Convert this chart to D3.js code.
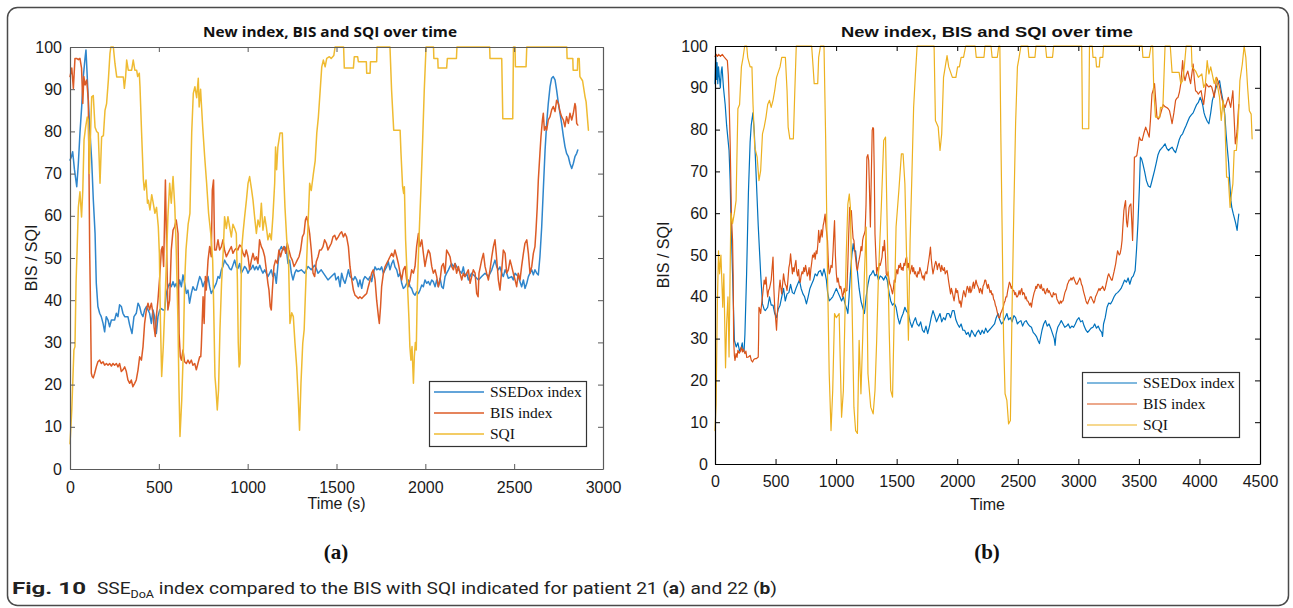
<!DOCTYPE html>
<html><head><meta charset="utf-8">
<script src="https://cdn.jsdelivr.net/npm/d3@7"></script>
<style>body{margin:0;background:#fff}svg{display:block}</style>
</head><body>
<svg id="c" width="1293" height="608"></svg>
<script>
// ---------------- data ----------------
const yTicks = [0,10,20,30,40,50,60,70,80,90,100];
const xTicksA = [0,500,1000,1500,2000,2500,3000];
const xTicksB = [0,500,1000,1500,2000,2500,3000,3500,4000,4500];
const legendLabels = ["SSEDox index","BIS index","SQI"];
const titleText = "New index, BIS and SQI over time";
const xLabelA = "Time (s)", xLabelB = "Time", yLabel = "BIS / SQI";

// panel (a) : patient 21
const sseA = [[0,73.2],[8,74],[15,75.2],[25,71],[38,66.9],[47,72.4],[56,79.6],[66,86],[75,93],[85,97.5],[90,99.3],[97,93],[103,87.4],[112,80],[122,73.2],[131,64],[141,55.9],[148,44],[157,38.5],[167,36.9],[176,36.1],[186,34.5],[195,32.5],[204,36.1],[214,35.3],[223,33.7],[233,35.3],[251,35.3],[261,36.9],[270,36.1],[279,38.9],[289,38.5],[298,36.9],[308,36.1],[326,36.1],[336,34.1],[349,32.1],[360,36.1],[373,36.9],[383,39.3],[392,38.5],[401,36.9],[411,36.1],[420,37.7],[430,38.5],[439,37.7],[448,36.9],[458,34.5],[467,37.7],[476,36.1],[486,32.1],[495,36.1],[505,37.7],[514,38],[523,37.7],[533,37.7],[542,41.6],[552,43.2],[561,44],[570,43.2],[580,44.4],[589,43.2],[598,44],[608,42.4],[617,44.8],[627,43.2],[636,46],[645,44],[655,41.6],[664,42.4],[673,39.3],[683,41.6],[692,43.2],[702,42.4],[711,42.4],[720,44],[730,45.6],[739,44.8],[748,43.2],[758,44.4],[767,44],[777,45.6],[786,43.2],[795,41.6],[805,42.4],[814,43.2],[823,44],[833,45.6],[842,45.2],[852,47.2],[861,48],[870,49.5],[880,48.7],[889,48.3],[898,47.5],[908,47.2],[917,48.3],[927,49.5],[936,47.9],[945,47.5],[955,48.7],[964,46.4],[974,47.2],[983,48],[992,47.5],[1002,46.4],[1011,47.2],[1021,47.5],[1030,48.3],[1039,47.2],[1049,48],[1058,47.2],[1068,48.3],[1077,47.2],[1086,46.4],[1096,47.2],[1105,46.4],[1114,45.6],[1124,46.4],[1133,47.2],[1142,45.6],[1152,46.4],[1161,44],[1171,48.7],[1180,51.9],[1190,52.7],[1199,51.9],[1208,52.7],[1218,51.9],[1227,48.7],[1236,49.5],[1246,46.4],[1255,44.8],[1265,46.4],[1274,47.2],[1283,46.8],[1302,47.2],[1321,46.4],[1340,48],[1358,47.2],[1377,48.3],[1386,47.5],[1396,46.4],[1414,47.2],[1433,46],[1452,44.8],[1471,45.6],[1490,46.4],[1497,44.8],[1510,45.6],[1520,43.2],[1529,46.4],[1539,44.8],[1548,44],[1558,45.6],[1567,47.2],[1576,45.6],[1586,45.2],[1595,44.8],[1604,45.6],[1614,44.8],[1623,43.2],[1632,44.8],[1642,42.8],[1651,44.8],[1660,45.6],[1670,45.2],[1679,44.8],[1689,45.6],[1698,44.4],[1707,46.4],[1717,47.9],[1726,47.2],[1736,47.5],[1745,47.2],[1754,47.9],[1764,46.4],[1773,47.2],[1782,47.9],[1792,49.1],[1801,47.2],[1811,48.7],[1820,49.5],[1829,47.9],[1839,47.2],[1848,45.6],[1858,46.4],[1867,44],[1876,42.8],[1886,43.2],[1895,44],[1904,44.8],[1914,43.2],[1923,42.8],[1933,41.6],[1942,41.2],[1951,42],[1961,41.6],[1970,42.4],[1980,43.6],[1989,43.2],[1998,44.8],[2008,44],[2017,44.4],[2026,43.6],[2036,44.8],[2045,44.4],[2055,43.2],[2064,44.8],[2073,43.2],[2083,45.2],[2092,43.2],[2101,42.8],[2111,45.6],[2120,46.4],[2130,47.2],[2139,48],[2148,48.7],[2158,47.9],[2167,48.7],[2186,47.2],[2205,46.4],[2214,47.9],[2223,45.6],[2233,46.4],[2242,44.8],[2261,46.4],[2280,45.6],[2299,44.8],[2317,45.6],[2336,46.4],[2355,45.6],[2374,47.2],[2392,49.5],[2402,47.9],[2411,47.2],[2420,47.9],[2430,46.4],[2439,45.6],[2449,47.2],[2458,46.4],[2467,45.2],[2486,45.6],[2495,44.8],[2505,46.4],[2523,45.6],[2542,43.2],[2552,44.8],[2561,42.8],[2571,44],[2580,45.6],[2589,46.4],[2599,47.2],[2608,46],[2617,47.2],[2627,46.4],[2636,46],[2645,50.3],[2655,57.4],[2664,66.1],[2674,75.6],[2683,81.9],[2692,86.6],[2702,90.6],[2711,92.6],[2720,93],[2730,92.2],[2739,89.8],[2749,86.6],[2758,84.3],[2767,81.9],[2777,78.8],[2786,76.4],[2795,74.8],[2805,74],[2814,72.4],[2824,71.2],[2833,72.4],[2842,74],[2852,74.8],[2858,75.6]];

const bisA = [[0,93],[10,95],[19,90.2],[28,97.3],[37,97.3],[47,97],[56,97.3],[65,95],[72,86.6],[78,93],[85,91],[94,92.2],[103,87.4],[107,70],[111,51],[115,40],[120,22.7],[125,21.9],[131,21.6],[139,22.7],[148,24.2],[157,25.4],[167,25.8],[176,25],[186,25.4],[195,24.6],[205,25],[214,24.6],[223,25],[233,24.4],[242,25],[251,24.6],[261,25],[270,24.2],[279,25],[289,23.1],[298,23.5],[308,24.2],[317,23.1],[326,21.1],[336,20.3],[345,21.1],[354,19.5],[364,20.3],[373,21.1],[383,23.5],[392,26.6],[402,25.8],[411,29],[420,34.5],[430,37.7],[439,39.3],[448,37.7],[458,39.3],[467,36.9],[473,33.7],[480,31.4],[486,36.1],[495,40],[505,45.6],[514,51.9],[520,52.7],[527,48],[537,68.5],[544,52],[551,37.7],[561,40],[570,51.9],[580,56.6],[589,57.4],[598,59],[608,55.8],[614,32.1],[621,26.6],[627,25.8],[636,28.2],[645,25.4],[655,25],[664,25.8],[673,25],[683,25.8],[692,24.6],[702,25],[711,23.5],[720,25],[730,26.6],[736,26.6],[739,29],[749,40.8],[755,34.5],[762,45.6],[767,42.4],[777,49.5],[786,52.7],[795,50.3],[801,66.1],[808,68.5],[814,51.9],[823,51.9],[833,54.3],[842,51.9],[852,52.7],[861,54.3],[870,51.9],[880,50.3],[889,51.1],[898,51.9],[908,52.7],[917,51.1],[927,51.9],[936,52.3],[945,51.9],[955,53.1],[964,52.7],[974,51.1],[983,50.3],[992,51.9],[1002,50.3],[1011,47.2],[1021,49.5],[1030,51.1],[1039,49.5],[1049,50.3],[1058,48.7],[1067,54.3],[1077,52.7],[1086,51.9],[1096,50.3],[1105,47.2],[1114,44],[1120,42.4],[1127,38.5],[1133,37.7],[1139,42.4],[1148,48],[1157,49.5],[1167,48.7],[1176,51.9],[1185,50.3],[1195,51.9],[1204,52.7],[1214,51.1],[1223,53.5],[1232,51.9],[1242,50.3],[1251,49.5],[1261,48],[1270,48.7],[1279,49.5],[1289,50.3],[1298,51.9],[1308,55],[1317,55.8],[1325,59],[1332,59.8],[1340,58.2],[1349,55.8],[1358,51.9],[1368,46.4],[1377,45.6],[1386,49.1],[1396,50.3],[1405,51.9],[1414,51.9],[1424,52.7],[1433,54.3],[1443,53.5],[1452,51.9],[1461,52.7],[1471,53.5],[1480,55],[1490,55.4],[1499,54.3],[1510,55],[1520,55.8],[1529,56.2],[1539,55],[1548,55.8],[1557,55],[1567,52.7],[1576,48],[1586,44.8],[1595,42.4],[1604,41.2],[1614,40.8],[1623,40.4],[1632,40.8],[1642,40.4],[1651,40.8],[1660,41.2],[1670,41.6],[1679,43.2],[1689,44.8],[1698,46.4],[1707,47.2],[1717,44.8],[1726,40],[1736,36.1],[1741,34.5],[1748,38.5],[1754,43.2],[1764,46.4],[1773,47.9],[1782,48.7],[1792,49.5],[1801,50.3],[1811,51.1],[1820,50.3],[1829,51.9],[1839,50.3],[1848,48.7],[1858,46.4],[1867,44.8],[1876,47.2],[1886,48],[1895,44.8],[1904,43.2],[1914,44.8],[1923,47.2],[1933,46.4],[1942,48],[1951,52.7],[1961,55.8],[1970,52.7],[1980,54.3],[1989,51.1],[1998,48],[2008,50.3],[2017,51.9],[2026,51.1],[2036,48],[2045,46.4],[2055,47.2],[2064,45.6],[2073,43.2],[2083,44.8],[2092,48],[2101,48.7],[2111,46.4],[2120,51.9],[2130,51.1],[2139,50.3],[2148,48],[2158,47.2],[2167,48.7],[2176,46.4],[2186,48],[2195,46.4],[2205,44.8],[2214,46.4],[2223,45.6],[2233,46.4],[2242,47.2],[2252,44],[2261,45.6],[2270,47.2],[2280,46.4],[2289,41.6],[2297,40.8],[2302,46.4],[2310,48],[2317,49.5],[2327,51.1],[2336,48],[2345,46.4],[2355,44.8],[2364,47.2],[2374,50.3],[2383,52.7],[2392,54.3],[2399,51.1],[2405,48],[2411,44.8],[2420,42.4],[2430,47.2],[2439,51.9],[2449,51.1],[2458,46.4],[2467,47.2],[2477,49.5],[2486,48],[2495,46.4],[2505,44.8],[2514,43.2],[2523,46.4],[2533,44.8],[2542,48],[2552,51.1],[2561,53.5],[2571,54.3],[2580,51.1],[2589,46.4],[2599,48],[2608,51.1],[2617,52.7],[2623,56.6],[2630,62.2],[2636,68.5],[2645,74.8],[2651,78.8],[2659,82.7],[2664,84.3],[2670,80.3],[2677,81.1],[2683,80.3],[2692,82.7],[2702,83.5],[2711,85.1],[2720,85.9],[2730,84.7],[2739,87.4],[2749,86.6],[2758,84.7],[2767,83.5],[2777,82.7],[2786,81.1],[2795,83.5],[2805,81.9],[2814,84.3],[2824,82.7],[2833,84.3],[2842,86.6],[2846,85.9],[2852,81.9],[2858,81.5]];

const sqiA = [[0,6],[10,14],[22,28.2],[28,29],[34,44],[40,52],[47,62],[56,65.7],[65,59.7],[72,66],[79,78],[88,81],[97,83.4],[103,82.7],[109,70],[116,80],[122,88.2],[131,88.5],[141,81],[150,80],[159,79.6],[169,67.7],[178,78.7],[188,79],[197,85],[206,86.6],[216,92.2],[225,98.5],[230,100],[244,100],[253,96.1],[263,92.9],[281,92.9],[300,92.9],[306,90.2],[313,92.9],[319,96.9],[328,94.5],[347,94.5],[356,96.9],[365,94.5],[375,94.5],[381,93],[390,93.8],[394,90.6],[403,79.6],[413,68.5],[418,66.1],[428,68.5],[436,63],[441,63.7],[450,61.4],[460,65],[469,62.9],[478,60.6],[487,62],[497,57.4],[503,51.1],[509,35],[516,21.9],[525,29],[535,40],[545,52],[551,59.8],[561,67.7],[570,63],[580,69.3],[590,62],[598,51.9],[607,36.1],[613,20],[619,7.7],[629,16.4],[638,28.2],[645,44],[653,52],[665,58],[675,60.6],[685,79.6],[694,89],[703,90.6],[713,88],[722,92.6],[727,85.8],[735,90],[747,81],[758,74],[769,67.7],[780,60.6],[792,55.9],[803,49.5],[808,40],[816,21.9],[822,18.7],[829,14],[836,18.7],[844,33],[853,44],[863,52],[870,59.8],[880,57],[889,59.8],[898,57.5],[908,55],[917,58],[927,57],[936,55.8],[942,45],[947,30],[952,24.2],[957,25],[962,40],[966,52],[974,56],[983,59.8],[993,63.7],[1002,67.7],[1011,69.3],[1021,66.5],[1030,63.7],[1039,59.8],[1049,55.8],[1058,59],[1068,57.4],[1077,63],[1086,56.6],[1096,59.8],[1105,57.4],[1114,54.3],[1124,55.8],[1133,54.3],[1142,59.8],[1152,67.7],[1157,76.3],[1163,70.9],[1170,76.3],[1182,79.6],[1195,79.6],[1201,71.7],[1210,62],[1220,54.3],[1229,51.1],[1238,34.5],[1248,37],[1257,36.1],[1266,30],[1276,24.2],[1285,16.4],[1292,9.2],[1300,20.3],[1310,29.8],[1318,33],[1328,45],[1340,58],[1349,67.7],[1358,66],[1370,70],[1380,73],[1389,79.6],[1398,83.4],[1407,89],[1417,95.3],[1426,96.9],[1436,95.3],[1445,97.3],[1460,97.7],[1470,97.3],[1485,98],[1492,100],[1540,100],[1544,95],[1595,95],[1600,97.7],[1619,97.7],[1623,96.5],[1668,96.5],[1670,93.8],[1689,93.8],[1691,96.5],[1726,96.5],[1728,100],[1801,100],[1810,89.8],[1822,80.3],[1858,80.3],[1863,74.8],[1872,66.9],[1878,65.3],[1882,66.9],[1889,54.3],[1900,43.2],[1908,35.3],[1913,29],[1919,25.8],[1925,29],[1933,20.3],[1938,26.6],[1944,30],[1949,28.2],[1955,42.4],[1964,54.3],[1975,66.1],[1985,78],[1994,89.8],[2004,100],[2046,100],[2048,97.3],[2070,97.3],[2072,95],[2120,95],[2124,97.3],[2175,97.3],[2178,100],[2362,100],[2364,97.3],[2430,97.3],[2436,83],[2492,83],[2496,100],[2505,100],[2507,95.3],[2567,95.3],[2571,100],[2796,100],[2798,97.3],[2830,97.3],[2832,94.5],[2856,94.5],[2858,97.3],[2866,97.3],[2870,93],[2885,92],[2899,88.2],[2905,87],[2918,80.3]];

// panel (b) : patient 22
const sseB = [[0,91],[6,98],[12,92],[17,96],[23,91],[29,95],[35,93],[44,90],[52,94],[58,95],[70,90],[84,86],[96,81],[116,75],[125,68],[131,60],[145,45.5],[160,29.6],[175,28],[189,29],[203,27],[218,28],[225,29],[232,27],[240,27],[247,31],[261,45.5],[276,65],[290,77],[299,81],[313,84],[325,79],[334,73],[357,57],[377,45.5],[392,38.3],[406,37],[415,36.7],[435,37.5],[450,40],[464,38],[479,38],[493,36],[508,35],[522,37],[537,38],[551,40],[566,42],[580,39],[595,40.7],[610,41],[624,43],[639,41],[653,40.7],[668,42],[682,43],[697,44],[711,42],[726,40.7],[740,40],[755,38.3],[769,40],[784,42],[798,43],[813,44],[827,45.5],[842,45],[856,46],[871,46.3],[885,45],[900,46.7],[910,45.5],[920,44],[930,41],[943,39],[958,39.5],[972,40],[987,41],[1002,42],[1016,41],[1031,40],[1045,39],[1060,40],[1074,38.3],[1089,37],[1097,36],[1107,40],[1118,45.5],[1130,50],[1141,52.7],[1150,51],[1161,51],[1176,46],[1190,42],[1205,39],[1219,37.5],[1234,36],[1248,40],[1263,43],[1277,45],[1292,45.5],[1306,46.3],[1321,45],[1335,45.5],[1350,44],[1364,45],[1379,44.7],[1393,44],[1408,45],[1422,44],[1437,41],[1451,39],[1466,38],[1480,38.5],[1495,37.5],[1510,35],[1524,33.5],[1539,35],[1553,36],[1568,37.5],[1582,36.5],[1597,36],[1611,34],[1626,32.7],[1640,34],[1655,35],[1669,33.5],[1684,33],[1698,34],[1713,32],[1727,31.5],[1742,33],[1756,31.2],[1771,33],[1785,35],[1800,36.7],[1814,35.5],[1829,34],[1843,35],[1858,36],[1872,34],[1887,35],[1901,34.5],[1916,36],[1931,36],[1945,35],[1960,36.7],[1974,36.7],[1989,34.5],[2003,33.5],[2018,32.7],[2032,33.5],[2047,32],[2061,32],[2076,31],[2090,31.5],[2105,30.4],[2119,32],[2134,31.2],[2148,30.5],[2163,31.5],[2177,32],[2192,31],[2206,32],[2221,31.2],[2235,32.5],[2250,31.5],[2264,32],[2279,32.5],[2293,33],[2308,33.5],[2322,35],[2337,36],[2351,34.5],[2366,33.5],[2380,34],[2395,35],[2410,36],[2424,34.5],[2439,35],[2453,34],[2468,35.5],[2482,35],[2497,33.5],[2511,34],[2526,34.3],[2540,33],[2555,34],[2569,34.3],[2584,33.5],[2598,33],[2613,32.7],[2627,31.5],[2642,31],[2656,30.4],[2668,29.5],[2679,28.8],[2690,30.5],[2700,32],[2714,33.5],[2729,34.3],[2743,33],[2758,33.5],[2772,32.5],[2787,31.2],[2801,30],[2808,28.4],[2816,31],[2830,32.7],[2845,33.5],[2859,34.3],[2874,33.5],[2888,32.7],[2903,33],[2917,33.5],[2932,32.5],[2946,33],[2961,32.7],[2975,33.5],[2990,34.5],[3005,35],[3019,34],[3034,34.3],[3048,33],[3063,32],[3077,31.5],[3092,32],[3106,32.5],[3121,32.7],[3135,33.5],[3150,32.5],[3164,33],[3179,32],[3193,31.5],[3200,30.5],[3208,33.5],[3222,35],[3237,37.5],[3251,38.5],[3266,38.3],[3280,39],[3295,40],[3310,40.7],[3324,41],[3339,41.5],[3353,42],[3368,43],[3382,44],[3397,43.5],[3411,44.5],[3425,43],[3440,44.5],[3454,45],[3469,46.3],[3480,51],[3492,57.5],[3504,66],[3512,73.4],[3522,73],[3533,71.8],[3547,70],[3562,67.8],[3578,66.5],[3594,66.2],[3610,68],[3629,70.2],[3643,72],[3658,74],[3672,75],[3687,75.5],[3701,76],[3716,76.6],[3730,75.5],[3745,75],[3760,75.5],[3774,75.8],[3789,75],[3803,74.5],[3818,76],[3832,77.5],[3846,78.5],[3861,79],[3875,80],[3890,81],[3904,82],[3919,83],[3933,83.5],[3948,84],[3962,85],[3977,86],[3991,86.5],[4006,87.7],[4016,87],[4026,86],[4038,84],[4049,83],[4064,82],[4078,81.4],[4093,84],[4107,87],[4122,88.5],[4137,90],[4151,91],[4166,91.7],[4178,89.5],[4189,87.7],[4200,86],[4209,83.7],[4220,79],[4229,75.8],[4241,72],[4253,66],[4260,63],[4267,61.4],[4278,60],[4287,59],[4300,57.5],[4311,55.9],[4318,58],[4325,59.8]];

const bisB = [[0,97.5],[10,98],[20,97.5],[30,98],[45,97.5],[60,98],[72,97.5],[87,97],[102,96.5],[110,93],[116,87.7],[125,77],[136,59],[145,53.5],[150,45],[154,29.6],[160,26],[165,24.8],[174,26.4],[182,25.5],[189,27.2],[200,26.5],[210,27],[218,28],[226,26.8],[233,27.5],[247,26.4],[255,27],[262,25.5],[276,25.6],[290,26],[300,24.8],[310,24.4],[320,25],[330,25.2],[340,25.2],[350,25.4],[357,25.6],[360,30],[363,37.5],[370,37],[377,36],[384,38],[392,40],[399,42],[406,44],[414,43],[421,44.7],[428,42],[435,40],[442,41.5],[450,42],[457,43],[464,44],[472,47],[479,49.5],[486,42],[493,37.5],[500,35],[508,32],[515,36],[522,39],[530,42],[537,44],[544,42],[551,40.7],[558,43],[566,45.5],[573,44],[580,43],[588,42.5],[595,41.5],[602,44],[610,47],[617,48],[624,50.3],[631,48],[639,45.5],[646,47],[653,46],[660,47.5],[668,48.7],[675,46],[682,45],[690,46.5],[697,44],[704,43.5],[711,45],[719,46],[726,45.5],[733,47],[740,46],[748,47.5],[755,46.3],[762,45],[769,45.5],[777,47],[784,44],[791,46.5],[798,48],[806,50],[813,49.5],[820,50.5],[827,49],[835,51],[842,50.3],[849,52.5],[856,55.9],[864,53],[871,54.5],[878,56],[885,54.3],[893,57],[900,58],[909,59.8],[916,57],[923,55],[929,53.5],[936,48],[943,45.5],[950,46],[958,47.5],[967,47],[975,51],[981,55],[987,58.2],[994,50],[1002,45.5],[1009,43.5],[1016,44.5],[1024,43],[1031,42],[1038,42.5],[1045,41.5],[1053,40],[1060,40.7],[1067,42],[1074,41],[1082,41.5],[1089,41.5],[1097,48],[1104,55],[1112,61.4],[1119,60],[1126,60.6],[1133,57],[1140,54],[1147,53.5],[1154,51],[1162,49],[1169,47],[1176,46.3],[1184,48],[1191,49],[1199,50.3],[1206,52],[1213,51],[1219,53.5],[1226,54.5],[1233,55],[1240,55.9],[1247,62],[1254,73.4],[1262,74],[1269,72.6],[1276,65],[1283,56.7],[1290,68],[1298,79.8],[1304,80.5],[1309,80.2],[1315,70],[1321,55],[1328,50],[1335,45.5],[1343,47],[1350,46.3],[1357,48],[1364,47.5],[1372,48.5],[1379,49.5],[1386,52],[1393,51],[1399,53.5],[1407,50],[1414,45.5],[1422,45],[1429,46],[1437,44],[1444,43],[1451,42.5],[1459,41.5],[1466,40.7],[1473,42],[1480,44],[1488,43.5],[1495,45.5],[1502,46.5],[1509,45.5],[1517,47.5],[1524,47],[1531,48],[1539,46.5],[1546,47],[1553,46.3],[1560,48],[1568,47.5],[1575,49],[1582,49.5],[1590,47],[1597,48],[1604,46.5],[1611,45.5],[1618,46.5],[1626,47.5],[1633,46],[1640,47],[1647,45.5],[1655,46],[1662,45],[1669,44.7],[1676,46],[1684,45.5],[1691,47],[1698,46.3],[1705,45.5],[1713,44.5],[1720,45],[1727,44],[1734,45.5],[1742,46],[1749,45.5],[1756,47],[1764,48.5],[1771,50],[1779,51.9],[1786,49],[1793,47],[1800,45.5],[1807,46.5],[1814,47.5],[1822,48.5],[1829,47.9],[1836,46.5],[1843,47.5],[1851,48],[1858,47],[1865,46],[1872,47.5],[1880,46.5],[1887,46.3],[1894,47],[1901,45.5],[1909,46],[1916,46.3],[1923,45],[1930,43.5],[1938,42],[1945,40.7],[1952,42],[1960,41],[1967,40],[1974,39],[1981,40.5],[1989,42],[1996,41],[2003,41.5],[2010,40],[2018,38.5],[2025,39],[2032,37.5],[2039,39],[2047,40.5],[2054,41.5],[2061,40.7],[2068,40],[2076,41.5],[2083,42.5],[2090,42],[2097,41],[2105,42.5],[2112,41],[2119,41.5],[2126,42.5],[2134,43.5],[2141,42],[2148,43],[2155,44],[2163,43],[2170,42.5],[2177,42],[2184,41],[2192,42],[2199,41.5],[2206,40.7],[2213,42.5],[2221,43],[2228,44],[2235,44],[2242,43],[2250,42],[2257,43],[2264,42],[2271,41],[2279,41.5],[2286,40.5],[2293,40.7],[2300,39.5],[2308,39],[2315,38],[2322,37.5],[2329,36.5],[2337,35.5],[2344,35],[2351,35],[2358,36],[2366,36.5],[2373,37],[2380,37.5],[2387,38.5],[2395,39],[2402,40],[2409,40],[2417,41.5],[2424,42.5],[2431,43.5],[2439,43],[2446,42],[2453,42.5],[2460,41.5],[2468,41.5],[2475,40.5],[2482,41],[2490,40],[2497,40],[2504,40.5],[2511,41.5],[2519,40.5],[2526,41.5],[2533,42],[2540,40.5],[2548,41],[2555,40.7],[2562,39.5],[2569,40],[2577,39],[2584,39],[2591,38.5],[2598,38],[2606,38.5],[2613,37.5],[2620,39],[2627,40],[2635,41],[2642,41.5],[2649,42.5],[2656,42],[2664,43],[2671,43],[2678,42.5],[2686,42],[2693,43],[2700,42],[2707,41.5],[2715,42],[2722,41],[2729,40.7],[2736,41.5],[2744,42],[2751,41],[2758,41.5],[2765,41],[2773,40.5],[2780,40],[2787,40],[2794,41],[2802,40.5],[2809,40.7],[2816,40.7],[2823,39.5],[2831,39],[2838,38.5],[2845,38.3],[2852,39],[2860,38.5],[2867,39],[2874,39],[2881,40],[2889,41],[2896,41.5],[2903,42],[2910,43],[2918,43.5],[2925,44],[2932,44],[2939,44.5],[2947,44],[2954,44.5],[2961,44.7],[2968,44],[2976,43.5],[2983,43],[2990,43],[2997,43.5],[3005,44],[3012,44.5],[3019,44],[3026,43],[3034,42.5],[3041,41.5],[3048,40.7],[3055,40],[3063,39],[3070,38.5],[3077,38.3],[3084,39],[3092,39.5],[3099,40],[3106,40],[3113,39.5],[3121,39],[3128,38.5],[3135,39],[3142,40],[3150,40.5],[3157,41],[3164,41.5],[3171,42],[3179,41.5],[3186,42],[3193,42],[3200,42.5],[3208,42],[3215,41.5],[3222,42],[3229,43],[3237,44],[3244,45],[3251,45.5],[3258,45],[3266,44.5],[3273,44],[3280,44],[3287,45],[3295,46],[3302,47],[3309,48],[3316,49.5],[3324,51],[3331,50.5],[3338,50],[3345,50.3],[3353,51.5],[3361,53.5],[3368,57],[3376,60.6],[3383,62],[3390,63],[3398,58],[3405,56.7],[3412,59],[3419,61.4],[3427,62],[3434,62.2],[3441,58],[3448,53.5],[3455,62],[3463,73.4],[3473,73.5],[3483,73.8],[3494,76],[3504,78.2],[3515,77.5],[3527,77.4],[3540,79],[3556,80.6],[3570,79.5],[3585,78.2],[3595,82],[3608,88.5],[3618,89.5],[3629,91],[3639,87],[3649,83],[3660,82.5],[3672,83],[3686,84.5],[3701,86],[3715,85.5],[3730,85.3],[3742,85],[3753,84.5],[3764,83],[3774,81.4],[3789,84],[3803,87],[3813,87.5],[3823,87.7],[3835,89],[3846,91],[3853,93.5],[3861,96.5],[3871,93],[3881,91.7],[3891,93],[3904,94],[3915,92.5],[3927,91],[3938,93.5],[3948,95.7],[3958,92],[3968,89.3],[3980,89],[3991,88.5],[4003,89],[4014,89.3],[4024,87.5],[4035,86],[4045,88.5],[4055,91],[4067,90.5],[4078,90.2],[4090,90.5],[4101,90.2],[4112,89],[4122,87.7],[4132,90],[4142,92.5],[4154,91.5],[4166,90.2],[4178,88.5],[4189,87],[4200,86],[4212,85.3],[4225,86.5],[4238,87.7],[4248,86.5],[4258,85.3],[4268,87.5],[4276,89.3],[4286,83],[4296,76.6],[4304,78],[4311,79.8],[4318,83],[4325,86]];

const sqiB = [[0,8],[9,14.4],[20,39],[29,51],[38,45.5],[49,50],[64,37.5],[73,45.5],[87,23],[96,33.5],[107,40],[116,25.6],[131,60],[145,57.5],[160,60],[174,63],[189,85],[203,86],[218,95],[232,97.3],[245,100],[262,100],[270,97.3],[290,95],[305,95],[314,86],[328,75.8],[348,73.4],[363,67.8],[377,70.2],[392,79],[406,80.6],[421,83],[435,86],[450,87],[464,85.3],[479,87],[493,89.3],[508,92.5],[537,95],[551,97.3],[581,97.3],[595,89.3],[604,80.6],[618,77.8],[647,77.8],[659,89.3],[671,100],[798,100],[810,95],[819,91],[848,91],[856,97.3],[871,100],[900,100],[914,77.4],[929,45.5],[943,21.6],[958,8],[972,17.6],[987,36],[1002,35],[1025,36],[1045,11.2],[1060,17.6],[1083,49.5],[1097,62.2],[1109,64.6],[1118,61.4],[1132,37.5],[1147,13.6],[1161,8],[1176,7.3],[1190,29.6],[1205,16.8],[1219,29.6],[1234,45.5],[1248,56.7],[1263,21.6],[1286,13.6],[1306,12],[1321,17.6],[1335,29.6],[1350,45.5],[1373,61.4],[1393,77.4],[1408,78.2],[1422,56.7],[1437,33.5],[1451,17.6],[1466,16],[1481,37.5],[1495,56.7],[1518,65.4],[1539,74.2],[1553,74.2],[1568,67],[1582,49.5],[1597,29.6],[1611,53.5],[1626,69.4],[1640,85.3],[1655,93.3],[1669,100],[1809,100],[1820,82.2],[1843,80.6],[1858,75],[1872,79],[1887,92.5],[1901,95],[1916,97.7],[1930,95],[1960,92.5],[1989,92.5],[2003,95],[2018,95],[2032,97.3],[2052,97.3],[2070,100],[2148,100],[2157,97.3],[2221,97.3],[2229,100],[2279,100],[2288,97.3],[2331,97.3],[2343,100],[2352,100],[2360,79],[2372,53.5],[2383,29.6],[2395,16.8],[2410,15.2],[2424,9.6],[2439,10.4],[2453,37.5],[2468,61.4],[2482,81.4],[2497,95],[2511,97.3],[2526,100],[2584,100],[2592,97.3],[2642,97.3],[2650,100],[2729,100],[2738,97.3],[2787,97.3],[2796,100],[3028,100],[3034,80.2],[3086,80.2],[3092,100],[3115,100],[3121,97.3],[3144,97.3],[3150,95],[3173,95],[3179,97.3],[3202,97.3],[3208,100],[3527,100],[3533,97.3],[3585,97.3],[3600,100],[3614,100],[3623,89.3],[3637,83],[3672,83],[3678,85.3],[3698,85.3],[3716,100],[3759,100],[3774,93.7],[3832,93.7],[3846,91],[3861,91.7],[3875,95],[3890,100],[3933,100],[3939,95],[3968,94],[3991,92.5],[4020,93.3],[4035,90.1],[4049,91],[4064,96.5],[4078,93.3],[4093,95],[4122,91],[4137,92.5],[4166,87.7],[4180,82.2],[4195,87],[4209,83],[4224,68.6],[4238,68.6],[4253,61.4],[4261,63.8],[4276,67],[4287,75],[4305,75],[4319,80.6],[4334,91.7],[4354,95.7],[4369,100],[4383,97.3],[4398,90],[4412,84.5],[4427,83.7],[4435,77.8]];

// ---------------- drawing ----------------
const svg = d3.select("#c");
const SANS = "'Liberation Sans', Arial, Helvetica, sans-serif";
const SERIF = "'Liberation Serif', 'Times New Roman', serif";

// outer rounded frame
svg.append("rect").attr("x",7.5).attr("y",7.5).attr("width",1281).attr("height",598)
  .attr("rx",10).attr("fill","none").attr("stroke","#4a4a4a").attr("stroke-width",1.5);

function drawPanel(cfg){
  const g = svg.append("g");
  const x = d3.scaleLinear().domain([0,cfg.xMax]).range([cfg.L,cfg.R]);
  const y = d3.scaleLinear().domain([0,100]).range([cfg.B,cfg.T]);
  const line = d3.line().x(d=>x(d[0])).y(d=>y(d[1]));
  cfg.series.forEach((s,i)=>{
    g.append("path").datum(s).attr("d",line).attr("fill","none")
      .attr("stroke",cfg.colors[i]).attr("stroke-width",cfg.lw)
      .attr("stroke-linejoin","round").attr("stroke-linecap","round");
  });
  const tk = 5;
  const fmt = d3.format("d");
  const axes = [
    [d3.axisBottom(x).tickValues(cfg.xTicks).tickFormat(fmt).tickPadding(cfg.xPad), `translate(0,${cfg.B})`],
    [d3.axisTop(x).tickValues(cfg.xTicks).tickFormat(""), `translate(0,${cfg.T})`],
    [d3.axisLeft(y).tickValues(yTicks).tickFormat(fmt).tickPadding(cfg.yPad), `translate(${cfg.L},0)`],
    [d3.axisRight(y).tickValues(yTicks).tickFormat(""), `translate(${cfg.R},0)`]
  ];
  axes.forEach(([ax,tr])=>{
    const a = g.append("g").attr("transform",tr)
      .call(ax.tickSizeInner(-tk).tickSizeOuter(0));
    a.select(".domain").attr("stroke",cfg.axisColor).attr("stroke-width",1.2);
    a.selectAll(".tick line").attr("stroke",cfg.axisColor).attr("stroke-width",1);
    a.selectAll(".tick text").attr("fill","#1a1a1a").attr("font-size",16)
      .attr("font-family",SANS);
  });
  // title
  g.append("text").attr("x",cfg.titleX).attr("y",37).attr("text-anchor","middle")
    .attr("font-family",cfg.titleFont).attr("font-weight","bold").attr("font-size",15)
    .attr("fill","#111").attr("textLength",cfg.titleW).attr("lengthAdjust","spacingAndGlyphs")
    .text(titleText);
  // axis labels
  g.append("text").attr("x",(cfg.L+cfg.R)/2).attr("y",cfg.xLabY).attr("text-anchor","middle")
    .attr("font-family",SANS).attr("font-size",16).attr("fill","#1a1a1a").text(cfg.xLabel);
  g.append("text").attr("transform",`translate(${cfg.yLabX},${cfg.yLabY}) rotate(-90)`)
    .attr("text-anchor","middle").attr("font-family",SANS).attr("font-size",16)
    .attr("fill","#1a1a1a").text(yLabel);
  // legend
  const lg = cfg.legend;
  g.append("rect").attr("x",lg.x+0.5).attr("y",lg.y+0.5).attr("width",lg.w).attr("height",lg.h)
    .attr("fill","#fff").attr("stroke","#333").attr("stroke-width",1.2);
  legendLabels.forEach((lab,i)=>{
    const yy = lg.y + lg.row0 + i*lg.dy;
    g.append("line").attr("x1",lg.x+5).attr("x2",lg.x+55).attr("y1",yy).attr("y2",yy)
      .attr("stroke",cfg.colors[i]).attr("stroke-width",cfg.lw);
    g.append("text").attr("x",lg.x+61).attr("y",yy+5).attr("font-family",SERIF)
      .attr("font-size",15.5).attr("fill","#111").text(lab);
  });
  // panel letter
  g.append("text").attr("x",(cfg.L+cfg.R)/2 - cfg.letterShift).attr("y",559).attr("text-anchor","middle")
    .attr("font-family",SERIF).attr("font-weight","bold").attr("font-size",21)
    .attr("fill","#111").text(cfg.letter);
}

drawPanel({L:70,R:603,T:47,B:469,xMax:3000,xTicks:xTicksA,xPad:13,yPad:8,
  series:[sseA,bisA,sqiA],colors:["#2f86cc","#dc5b26","#efbb32"],lw:1.5,
  axisColor:"#5a5a5a",titleX:330,titleW:254,titleFont:"'Open Sans', 'Liberation Sans', sans-serif",
  xLabel:xLabelA,xLabY:509,yLabX:37,yLabY:258,
  legend:{x:429,y:381,w:157,h:65,row0:11,dy:21},letter:"(a)",letterShift:0.5});

drawPanel({L:715,R:1260,T:46,B:464,xMax:4500,xTicks:xTicksB,xPad:12,yPad:7,
  series:[sseB,bisB,sqiB],colors:["#0072BD","#D95319","#EDB120"],lw:1.2,
  axisColor:"#000",titleX:987,titleW:292,titleFont:SANS,
  xLabel:xLabelB,xLabY:510,yLabX:669,yLabY:255,
  legend:{x:1082,y:372,w:157,h:65,row0:11,dy:21},letter:"(b)",letterShift:0.5});

// caption
const cap = svg.append("g").attr("font-family","'Liberation Sans Narrow', 'Roboto', 'Open Sans', sans-serif")
  .attr("font-size",16).attr("fill","#222");
cap.append("text").attr("x",12).attr("y",594).attr("font-weight","bold")
  .attr("textLength",74).attr("lengthAdjust","spacingAndGlyphs").text("Fig. 10");
const ct = cap.append("text").attr("x",97).attr("y",594)
  .attr("textLength",680).attr("lengthAdjust","spacingAndGlyphs");
ct.append("tspan").text("SSE");
ct.append("tspan").attr("font-size",10.5).attr("dy",4).text("DoA");
ct.append("tspan").attr("dy",-4).text(" index compared to the BIS with SQI indicated for patient 21 (");
ct.append("tspan").attr("font-weight","bold").text("a");
ct.append("tspan").text(") and 22 (");
ct.append("tspan").attr("font-weight","bold").text("b");
ct.append("tspan").text(")");
</script>
</body></html>
